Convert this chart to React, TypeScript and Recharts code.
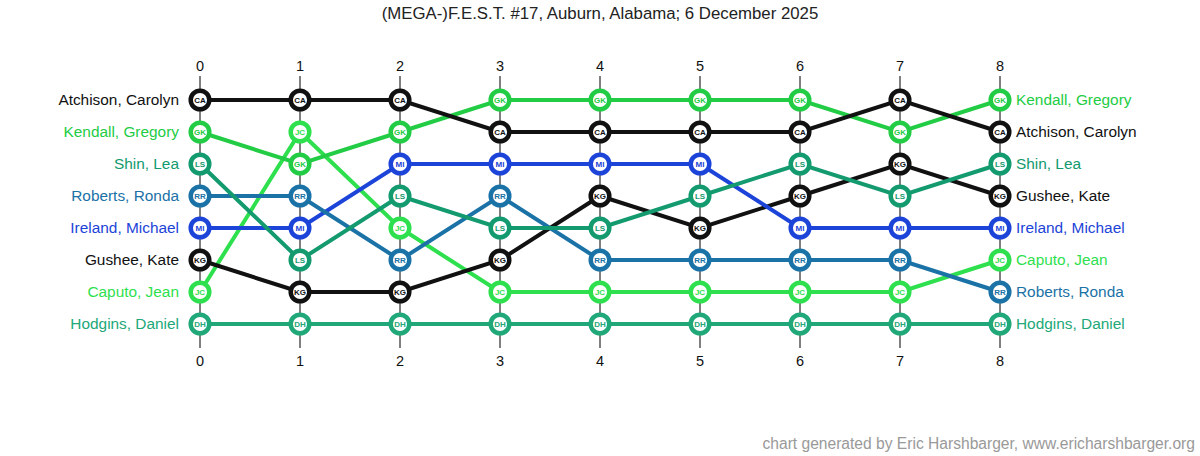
import { CartesianGrid, Line, LineChart, XAxis, YAxis } from "recharts";

const ROUNDS = [0, 1, 2, 3, 4, 5, 6, 7, 8];

const PLAYER_CODES = ["CA", "GK", "LS", "RR", "MI", "KG", "JC", "DH"];

const PLAYER_NAMES: Record<string, string> = {
  CA: "Atchison, Carolyn",
  GK: "Kendall, Gregory",
  LS: "Shin, Lea",
  RR: "Roberts, Ronda",
  MI: "Ireland, Michael",
  KG: "Gushee, Kate",
  JC: "Caputo, Jean",
  DH: "Hodgins, Daniel",
};

// standing after each round (1 = top)
const RANK_CA = [1, 1, 1, 2, 2, 2, 2, 1, 2];
const RANK_GK = [2, 3, 2, 1, 1, 1, 1, 2, 1];
const RANK_LS = [3, 6, 4, 5, 5, 4, 3, 4, 3];
const RANK_RR = [4, 4, 6, 4, 6, 6, 6, 6, 7];
const RANK_MI = [5, 5, 3, 3, 3, 3, 5, 5, 5];
const RANK_KG = [6, 7, 7, 6, 4, 5, 4, 3, 4];
const RANK_JC = [7, 2, 5, 7, 7, 7, 7, 7, 6];
const RANK_DH = [8, 8, 8, 8, 8, 8, 8, 8, 8];

const RANKS: Record<string, number[]> = {
  CA: RANK_CA,
  GK: RANK_GK,
  LS: RANK_LS,
  RR: RANK_RR,
  MI: RANK_MI,
  KG: RANK_KG,
  JC: RANK_JC,
  DH: RANK_DH,
};

const RANK_TICKS = [1, 2, 3, 4, 5, 6, 7, 8];

const COLORS: Record<string, string> = {
  CA: "#111111",
  GK: "#22cc44",
  LS: "#139a6e",
  RR: "#1a72a6",
  MI: "#1c44d8",
  KG: "#111111",
  JC: "#2ee04e",
  DH: "#20a878",
};

const FONT = "Arial, 'Liberation Sans', sans-serif";

const data = ROUNDS.map((r, i) => {
  const row: Record<string, number> = { round: r };
  PLAYER_CODES.forEach((c) => {
    row[c] = RANKS[c][i];
  });
  return row;
});

const playerAt = (roundIdx: number, rank: number) =>
  PLAYER_CODES.find((c) => RANKS[c][roundIdx] === rank) ?? "";

function NameTick(props: any, roundIdx: number, anchor: "start" | "end") {
  const { x, y, payload } = props;
  const code = playerAt(roundIdx, payload.value);
  return (
    <text
      x={x}
      y={y}
      dy="0.35em"
      textAnchor={anchor}
      fill={COLORS[code]}
      fontSize={15.4}
      fontFamily={FONT}
    >
      {PLAYER_NAMES[code]}
    </text>
  );
}

function makeDot(code: string) {
  return (props: any) => {
    const { cx, cy, index } = props;
    if (cx == null || cy == null) return <g key={`${code}-${index}`} />;
    return (
      <g key={`${code}-${index}`}>
        <circle cx={cx} cy={cy} r={9.3} fill="#fff" stroke={COLORS[code]} strokeWidth={4.5} />
        <text
          x={cx}
          y={cy}
          dy="0.35em"
          textAnchor="middle"
          fontSize={8}
          fontWeight="bold"
          fontFamily={FONT}
          fill={COLORS[code]}
        >
          {code}
        </text>
      </g>
    );
  };
}

export default function App() {
  return (
    <div style={{ position: "absolute", left: 0, top: 0, width: 1200, height: 456, background: "#fff" }}>
      <div
        style={{
          position: "absolute",
          top: 4,
          left: 0,
          width: 1200,
          textAlign: "center",
          fontFamily: FONT,
          fontSize: 16.8,
          color: "#222",
        }}
      >
        (MEGA-)F.E.S.T. #17, Auburn, Alabama; 6 December 2025
      </div>
      <LineChart
        width={1200}
        height={456}
        data={data}
        margin={{ top: 46, right: 0, bottom: 82, left: 0 }}
      >
        <CartesianGrid vertical horizontal={false} stroke="#000" strokeWidth={1} />
        <XAxis
          xAxisId="top"
          orientation="top"
          dataKey="round"
          type="number"
          domain={[0, 8]}
          ticks={ROUNDS}
          height={30}
          axisLine={false}
          tickLine={false}
          tickSize={0}
          tickMargin={5}
          tick={{ fill: "#111", fontSize: 14.5, fontFamily: FONT }}
        />
        <XAxis
          xAxisId="bottom"
          orientation="bottom"
          dataKey="round"
          type="number"
          domain={[0, 8]}
          ticks={ROUNDS}
          height={26}
          axisLine={false}
          tickLine={false}
          tickSize={0}
          tickMargin={8}
          tick={{ fill: "#111", fontSize: 14.5, fontFamily: FONT }}
        />
        <YAxis
          yAxisId="left"
          orientation="left"
          type="number"
          domain={[0.25, 8.75]}
          reversed
          ticks={RANK_TICKS}
          width={200}
          axisLine={false}
          tickLine={false}
          tickSize={0}
          tickMargin={21}
          tick={(p: any) => NameTick(p, 0, "end")}
        />
        <YAxis
          yAxisId="right"
          orientation="right"
          type="number"
          domain={[0.25, 8.75]}
          reversed
          ticks={RANK_TICKS}
          width={200}
          axisLine={false}
          tickLine={false}
          tickSize={0}
          tickMargin={16}
          tick={(p: any) => NameTick(p, ROUNDS.length - 1, "start")}
        />
        {PLAYER_CODES.slice()
          .reverse()
          .map((c, i) => (
            <Line
              key={c}
              xAxisId={i % 2 === 0 ? "top" : "bottom"}
              yAxisId={i % 2 === 0 ? "left" : "right"}
              dataKey={c}
              type="linear"
              stroke={COLORS[c]}
              strokeWidth={4}
              dot={makeDot(c)}
              activeDot={false}
              isAnimationActive={false}
            />
          ))}
      </LineChart>
      <div
        style={{
          position: "absolute",
          top: 435,
          right: 5,
          fontFamily: FONT,
          fontSize: 15.6,
          color: "#999",
        }}
      >
        chart generated by Eric Harshbarger, www.ericharshbarger.org
      </div>
    </div>
  );
}
